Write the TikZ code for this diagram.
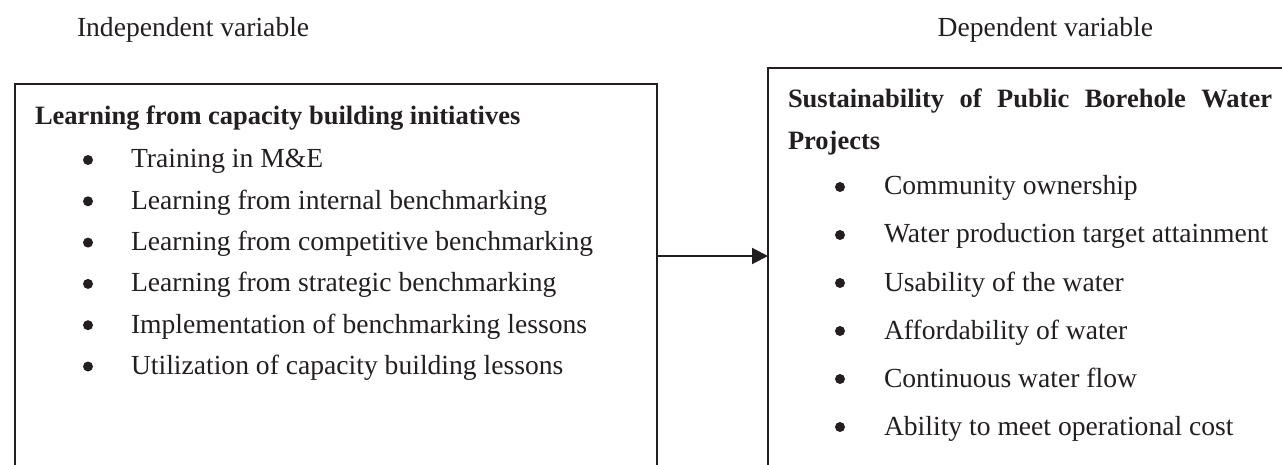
\documentclass[tikz,border=0pt]{standalone}
\usepackage{fontspec}
\setmainfont{Liberation Serif}
\usetikzlibrary{arrows.meta}
\definecolor{ink}{RGB}{35,31,32}
\begin{document}
\begin{tikzpicture}[x=1pt,y=-1pt,
  every node/.style={inner sep=0pt,outer sep=0pt,text=ink},
  txt/.style={anchor=base west,font=\fontsize{27.6}{33}\selectfont},
  head/.style={anchor=base west,font=\fontsize{26.5}{32}\selectfont\bfseries},
  frame/.style={draw=ink,line width=2pt,anchor=north west},
  dot/.style={circle,fill=ink,inner sep=0pt,minimum size=10pt}]
\useasboundingbox (0,0) rectangle (1282,465);
\clip (0,0) rectangle (1282,465);

% column titles
\node[txt] (tiv) at (77,37) {Independent variable};
\node[txt,anchor=base east] (tdv) at (1153,37) {Dependent variable};

% frames (open at the bottom / right edge of the page)
\node[frame,minimum width=642pt,minimum height=420pt] (ivbox) at (15,84) {};
\node[frame,minimum width=600pt,minimum height=440pt] (dvbox) at (768,68) {};

% independent variable
\node[head] (ivhead) at (35,125) {Learning from capacity building initiatives};
\foreach \y/\t [count=\i] in {
  168/{Training in M\&E},
  209.3/{Learning from internal benchmarking},
  250.6/{Learning from competitive benchmarking},
  291.9/{Learning from strategic benchmarking},
  333.2/{Implementation of benchmarking lessons},
  374.5/{Utilization of capacity building lessons}}{
  \node[dot] (ivb\i) at (88,\y-8) {};
  \node[txt] (ivi\i) at (131,\y) {\t};
}

% dependent variable
\node[head] (dvhead) at (788,108)
  {\makebox[484pt][s]{Sustainability of Public Borehole Water}};
\node[head] (dvhead2) at (788,150) {Projects};
\foreach \y/\t [count=\i] in {
  195/{Community ownership},
  243/{Water production target attainment},
  291/{Usability of the water},
  339/{Affordability of water},
  387/{Continuous water flow},
  435/{Ability to meet operational cost}}{
  \node[dot] (dvb\i) at (840,\y-8) {};
  \node[txt] (dvi\i) at (884,\y) {\t};
}

% relation
\coordinate (ay) at (0,256);
\draw[draw=ink,line width=2pt,-{Triangle[length=16pt,width=16pt]}]
  (ivbox.east |- ay) -- (dvbox.west |- ay);
\end{tikzpicture}
\end{document}
